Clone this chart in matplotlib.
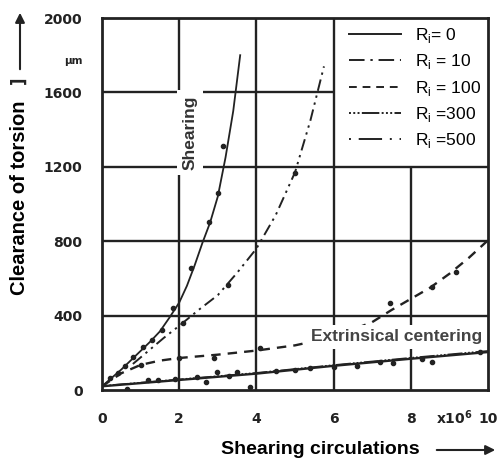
import matplotlib
matplotlib.use("Agg")
import matplotlib.pyplot as plt
from matplotlib.lines import Line2D

# ---- data ----
shear_x = [0, 0.25, 0.5, 0.75, 1.0, 1.25, 1.5, 1.75, 2.0, 2.2, 2.4, 2.6, 2.8, 3.0, 3.2, 3.4, 3.58]
shear_y = [20, 65, 110, 160, 210, 260, 315, 390, 470, 560, 670, 790, 900, 1040, 1250, 1500, 1800]
shear_pts_x = [0.2, 0.41, 0.6, 0.8, 1.06, 1.3, 1.55, 1.84, 2.3, 2.77, 3.0, 3.14]
shear_pts_y = [64, 91, 130, 177, 231, 270, 323, 440, 656, 903, 1060, 1312]

dd_x = [0.8, 1.2, 1.6, 2.0, 2.5, 3.0, 3.5, 4.0, 4.5, 5.0, 5.4, 5.75]
dd_y = [140, 210, 280, 345, 430, 510, 630, 760, 940, 1170, 1450, 1740]
dd_pts_x = [2.1, 3.26, 5.0]
dd_pts_y = [360, 564, 1166]

dash_x = [0, 0.5, 1.0, 1.5, 2.0, 3.0, 4.0, 5.0, 6.0, 7.0, 7.5, 8.0, 8.5, 9.0, 9.5, 10]
dash_y = [20, 90, 135, 158, 172, 190, 212, 240, 285, 365, 430, 490, 550, 625, 710, 805]
dash_pts_x = [1.0, 2.0, 2.9, 4.1, 7.46, 8.55, 9.17]
dash_pts_y = [135, 172, 171, 226, 468, 554, 634]

low_x = [0, 2, 4, 6, 8, 10]
low_y = [20, 54, 88, 130, 168, 204]
low2_y = [22, 57, 92, 134, 173, 210]
low_pts_x = [0.64, 1.2, 1.45, 1.9, 2.45, 2.7, 2.97, 3.3, 3.5, 3.83, 4.5, 5.0, 5.4, 6.0, 6.6, 7.2, 7.55, 8.3, 8.55, 9.8]
low_pts_y = [5, 52, 56, 58, 72, 43, 97, 75, 97, 16, 100, 110, 118, 125, 130, 150, 145, 165, 150, 205]

x_ticks = [0, 2, 4, 6, 8, 10]
x_tick_labels = ['0', '2', '4', '6', '8', '10']
y_ticks = [0, 400, 800, 1200, 1600, 1775, 2000]
y_tick_labels = ['0', '400', '800', '1200', '1600', 'µm', '2000']

legend_labels = ['R$_\\mathregular{i}$= 0', 'R$_\\mathregular{i}$ = 10', 'R$_\\mathregular{i}$ = 100',
                 'R$_\\mathregular{i}$ =300', 'R$_\\mathregular{i}$ =500']

# ---- styles ----
INK = '#222222'
LS_0 = '-'
LS_10 = (0, (8, 3, 1.2, 3))
LS_100 = (0, (4, 3))
LS_300 = (0, (1, 1.2, 1, 1.2, 1, 1.2, 9, 1.2))
LS_500 = (0, (1, 4, 12, 4))
DD_STYLE = (0, (6, 2.5, 1.2, 2.5, 1.2, 2.5))

fig = plt.figure(figsize=(4.99, 4.59), dpi=100)
ax = fig.add_axes([102/499, 1 - 390/459, 386/499, 372/459])
ax.set_xlim(0, 10)
ax.set_ylim(0, 2000)

# grid (legend area left blank)
gkw = dict(color=INK, lw=1.7, zorder=1)
for gx in [2, 4, 6]:
    ax.vlines(gx, 0, 2000, **gkw)
ax.vlines(8, 0, 1200, **gkw)
for gy in [400, 800, 1200]:
    ax.hlines(gy, 0, 10, **gkw)
ax.hlines(1600, 0, 6, **gkw)

# curves
ax.plot(shear_x, shear_y, color=INK, lw=1.3, ls=LS_0, zorder=3)
ax.plot(dd_x, dd_y, color=INK, lw=1.4, ls=DD_STYLE, zorder=3)
ax.plot(dash_x, dash_y, color=INK, lw=1.7, ls=LS_100, zorder=3)
ax.plot(low_x, low_y, color=INK, lw=1.7, ls=LS_0, zorder=3)
ax.plot(low_x, low2_y, color=INK, lw=1.2, ls=LS_300, zorder=3)

mk = dict(color=INK, marker='o', ms=3.0, ls='none', zorder=4)
ax.plot(shear_pts_x, shear_pts_y, **mk)
ax.plot(dd_pts_x, dd_pts_y, **mk)
ax.plot(dash_pts_x, dash_pts_y, **mk)
ax.plot(low_pts_x, low_pts_y, **mk)

for s in ax.spines.values():
    s.set_linewidth(2)
    s.set_color(INK)

ax.set_xticks(x_ticks)
ax.set_xticklabels(x_tick_labels)
ax.set_yticks(y_ticks)
ax.set_yticklabels(y_tick_labels)
ax.tick_params(length=0, labelsize=10, colors=INK)
ax.tick_params(axis='x', pad=16)
ax.tick_params(axis='y', pad=14)
for lab in ax.get_xticklabels() + ax.get_yticklabels():
    lab.set_fontweight('bold')
ax.get_yticklabels()[5].set_fontsize(7.5)

ax.text(9.12, -0.075, 'x10$^\\mathbf{6}$', transform=ax.get_xaxis_transform(),
        ha='center', va='center', fontsize=10, fontweight='bold', color=INK)

# legend
handles = [Line2D([], [], color=INK, lw=1.4, ls=s) for s in [LS_0, LS_10, LS_100, LS_300, LS_500]]
ax.legend(handles, legend_labels, loc='upper left', bbox_to_anchor=(0.64, 0.978),
          frameon=False, handlelength=3.0, handletextpad=0.8,
          labelspacing=0.42, borderpad=0, borderaxespad=0,
          prop={'family': 'Liberation Sans', 'size': 12.5})

# annotations
ax.text(2.28, 1385, 'Shearing', rotation=90, ha='center', va='center', fontsize=12.5,
        fontweight='bold', family='Liberation Sans', color='#333333', zorder=6,
        bbox=dict(facecolor='white', edgecolor='none', pad=4))
ax.text(7.62, 285, 'Extrinsical centering', ha='center', va='center', fontsize=12.5,
        fontweight='bold', family='Liberation Sans', color='#444444', zorder=6, clip_on=False,
        bbox=dict(facecolor='white', edgecolor='none', pad=3))

# axis titles with arrows
fig.text(20/499, 1 - 198/459, 'Clearance of torsion', rotation=90, ha='center', va='center',
         fontsize=14.5, fontweight='bold', family='Liberation Sans', color='black')
fig.text(19/499, 1 - 80/459, ']', rotation=90, ha='center', va='center',
         fontsize=12, fontweight='bold', color=INK)
fig.text(320/499, 1 - 450/459, 'Shearing circulations', ha='center', va='center',
         fontsize=14, fontweight='bold', family='Liberation Sans', color='black')
fig.add_artist(matplotlib.patches.FancyArrowPatch((20/499, 1 - 72/459), (20/499, 1 - 10/459),
               transform=fig.transFigure, arrowstyle='-|>', mutation_scale=14, lw=1.5, color=INK))
fig.add_artist(matplotlib.patches.FancyArrowPatch((434/499, 1 - 450/459), (498/499, 1 - 450/459),
               transform=fig.transFigure, arrowstyle='-|>', mutation_scale=14, lw=1.5, color=INK))

fig.savefig('out.png', dpi=100, facecolor='white')
